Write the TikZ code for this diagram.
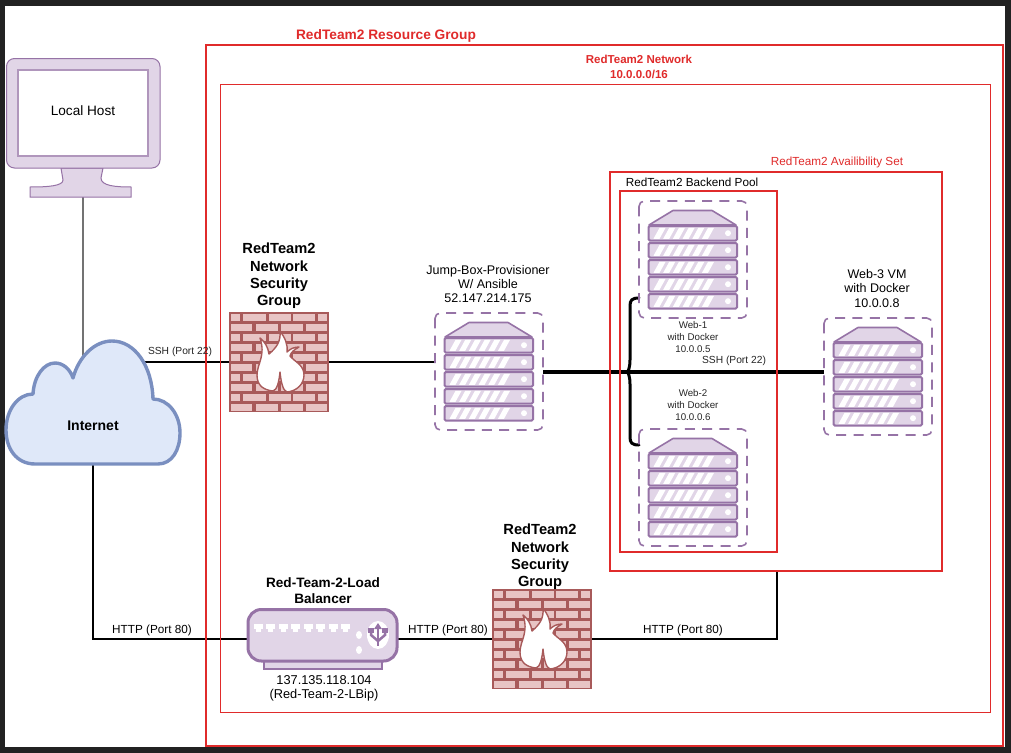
\documentclass[tikz,border=0pt]{standalone}
\usepackage{fontspec}
\setmainfont{Liberation Sans}
\definecolor{framebg}{HTML}{222222}
\definecolor{redline}{HTML}{E02B2B}
\definecolor{purp}{HTML}{9673A6}
\definecolor{purpfill}{HTML}{E1D5E7}
\definecolor{cloudline}{HTML}{7A8FC0}
\definecolor{cloudfill}{HTML}{DFE8F9}
\definecolor{brickdark}{HTML}{A85A5A}
\definecolor{brickfill}{HTML}{E8C4C4}
\tikzset{
  iconbox/.style n args={2}{rectangle,inner sep=0pt,outer sep=0pt,minimum width=#1*0.75pt,minimum height=#2*0.75pt},
  px/.style={line width=#1*0.75pt},
  group/.style={draw=redline,px=#1},
  wire/.style={draw=black,px=#1},
  labeltxt/.style={inner sep=0pt,align=center,text=black,font=\fontsize{8.8}{10.5}\selectfont},
  largetxt/.style={inner sep=0pt,align=center,text=black,font=\fontsize{9.4}{10.8}\selectfont},
  smalltxt/.style={inner sep=0pt,align=center,text=black!85,font=\fontsize{7.3}{9}\selectfont},
  headtxt/.style={inner sep=0pt,align=center,text=black,font=\fontsize{11}{13.1}\selectfont\bfseries},
  redtxt/.style={inner sep=0pt,align=center,text=redline},
}
\newcommand{\serverpic}[1]{%
  \begin{scope}[shift={(#1.north west)}]
    \draw[purp,px=1.6,dash pattern=on 7.5pt off 5.5pt,rounded corners=4pt] (0,0) rectangle (108,117);
    \filldraw[fill=purpfill,draw=purp,px=1.6,line join=round] (10,24) -- (34,9.5) -- (73,9.5) -- (97,24) -- cycle;
    \foreach \yy in {25,42,59,76,93}{
      \filldraw[fill=purpfill,draw=purp,px=2,rounded corners=1pt] (9.5,\yy) rectangle (98,\yy+14.5);
      \fill[white] (89,\yy+7.2) circle[radius=3];
      \foreach \sx in {0,...,5}{
        \fill[white] ({14.5+\sx*9.7},\yy+12.8) -- ({20.5+\sx*9.7},\yy+12.8) -- ({26.5+\sx*9.7},\yy+1.9) -- ({20.5+\sx*9.7},\yy+1.9) -- cycle;
      }
    }
  \end{scope}}
\newcommand{\firewallpic}[1]{%
  \begin{scope}[shift={(#1.north west)}]
    \fill[brickdark] (0,0) rectangle (100,100);
    \foreach \ry in {0,20,40,60,80}{
      \foreach \a/\b in {2.3/10.7,14/37,39.5/61.5,64/86,88.5/98}{
        \fill[brickfill] (\a,\ry+1.5) rectangle (\b,\ry+8.7);
      }
      \foreach \a/\b in {1.5/23,27/49,52/74,76.5/98}{
        \fill[brickfill] (\a,\ry+11.5) rectangle (\b,\ry+18.7);
      }
    }
    \filldraw[fill=white,draw=brickdark,px=1.4,line join=round]
      (44,79) .. controls (35,78) and (28,74) .. (28,63)
      .. controls (28,52) and (37,44) .. (31,26)
      .. controls (36,30) and (39,35) .. (40,42)
      .. controls (47,36) and (52,30) .. (51,19)
      .. controls (56,26) and (59,32) .. (58,40)
      .. controls (61,37) and (65,35) .. (70,35)
      .. controls (65,38) and (62,40) .. (61,44)
      .. controls (66,50) and (75,53) .. (75,63)
      .. controls (75,72) and (68,79) .. (58,80)
      .. controls (54,79) and (52,70) .. (51,60)
      .. controls (50,70) and (48,78) .. (44,79) -- cycle;
  \end{scope}}
\begin{document}
\begin{tikzpicture}[x=0.75pt,y=-0.75pt]
\useasboundingbox (0,0) rectangle (1011,753);
\fill[framebg] (0,0) rectangle (1011,753);
\fill[white] (5,6) rectangle (1005,747);

% anchors of the icons
\node[iconbox={154}{139}] (monitor) at (83,127.5) {};
\node[iconbox={174}{124}] (internet) at (93,403) {};
\node[iconbox={100}{100}] (fwa) at (279,362) {};
\node[iconbox={100}{100}] (fwb) at (542,639) {};
\node[iconbox={108}{117}] (jump) at (489,371.5) {};
\node[iconbox={108}{117}] (weba) at (693,259.5) {};
\node[iconbox={108}{117}] (webb) at (693,487.5) {};
\node[iconbox={108}{117}] (webc) at (878,376.5) {};
\node[iconbox={149}{60}] (lb) at (322.5,639) {};
\node[iconbox={157}{361}] (pool) at (698.5,371.5) {};
\node[iconbox={332}{399}] (avset) at (776,371.5) {};
\coordinate (bracetip) at (627,372);

% connectors
\draw[draw=black!55,px=1.3] (monitor.south) -- (monitor.south |- internet.center);
\draw[wire=1.6] (fwa.west) -- (fwa.west -| internet.center);
\draw[wire=1.6] (fwa.east) -- (fwa.east -| jump.west);
\draw[wire=4] (jump.east) -- (jump.east -| webc.west);
\draw[wire=3,line cap=round] (weba.west |- 0,298) .. controls (632,298) and (630,300) .. (630,306) -- (630,360) .. controls (630,368) and (628,372) .. (bracetip) .. controls (628,372) and (630,376) .. (630,384) -- (630,437) .. controls (630,443) and (632,445) .. (webb.west |- 0,445);
\draw[wire=1.6] (internet.center) |- (lb.west);
\draw[wire=1.6] (lb.east) -- (fwb.west);
\draw[wire=1.6] (fwb.east) -| (avset.south -| pool.south east);

% group boxes
\draw[group=2] (206,45) rectangle (1003,746);
\draw[group=1] (220,84) rectangle (990,712);
\draw[group=2] (avset.north west) rectangle (avset.south east);
\draw[group=2] (pool.north west) rectangle (pool.south east);

% monitor
\filldraw[fill=purpfill,draw=purp,px=1] (30,197) -- (30,187) .. controls (48,187) and (63,186) .. (63,180) -- (61,168) -- (103,168) -- (101,178) .. controls (101,186) and (116,187) .. (131,187) -- (131,197) -- cycle;
\filldraw[fill=purpfill,draw=purp,px=1,rounded corners=6pt] (6.5,58.5) rectangle (160,168);
\filldraw[fill=white,draw=purp!75,px=1.3] (18,70) rectangle (148,156);

% cloud
\filldraw[fill=cloudfill,draw=cloudline,px=3.4,line join=round]
  (35,464) .. controls (16,464) and (6,448) .. (6,430)
  .. controls (6,410) and (18,394) .. (33,394)
  .. controls (34,376) and (44,363) .. (55,363)
  .. controls (63,363) and (70,369) .. (73,378)
  .. controls (79,356) and (95,341) .. (112,341)
  .. controls (135,341) and (152,366) .. (153,399)
  .. controls (168,399) and (180,414) .. (180,433)
  .. controls (180,450) and (172,464) .. (158,464) -- cycle;

% icons
\firewallpic{fwa}
\firewallpic{fwb}
\serverpic{jump}
\serverpic{weba}
\serverpic{webb}
\serverpic{webc}

% load balancer
\filldraw[fill=purpfill,draw=purp,px=1.6] (264,660) rectangle (382,669);
\filldraw[fill=purpfill,draw=purp,px=3,rounded corners=10pt] (lb.north west |- 0,609.5) rectangle (lb.east |- 0,661);
\foreach \i in {0,...,7}{
  \fill[white] ({253.5+\i*12.5},624) rectangle ({262.5+\i*12.5},629);
  \fill[white] ({255.5+\i*12.5},629) rectangle ({260.5+\i*12.5},632);
}
\fill[white] (359,635) ellipse[x radius=3,y radius=4];
\fill[white] (359,650) ellipse[x radius=3,y radius=4];
\fill[white] (378,635) ellipse[x radius=11,y radius=14];
\draw[purp,px=2.5] (378,627) -- (378,646);
\draw[purp,px=2.5] (378,641) -- (371,635) -- (371,631);
\draw[purp,px=2.5] (378,641) -- (385,635) -- (385,631);
\fill[purp] (378,623) -- (382,629) -- (374,629) -- cycle;
\fill[purp] (368,628) rectangle (374,633);
\fill[purp] (382,628) rectangle (388,633);

% labels
\node[redtxt,font=\fontsize{10.3}{12}\selectfont\bfseries] (lrg) at (386,36) {RedTeam2 Resource Group};
\node[redtxt,font=\fontsize{8.65}{10.8}\selectfont\bfseries] (lnet) at (639,67) {RedTeam2 Network\\10.0.0.0/16};
\node[redtxt,font=\fontsize{8.8}{10.8}\selectfont] (lav) at (837,162) {RedTeam2 Availibility Set};
\node[labeltxt] (lpool) at (692,182) {RedTeam2 Backend Pool};
\node[inner sep=0pt,text=black,font=\fontsize{10.2}{12}\selectfont] (lhost) at (83,111) {Local Host};
\node[inner sep=0pt,text=black,font=\fontsize{10.5}{12}\selectfont\bfseries] (lint) at (93,426) {Internet};
\node[smalltxt,font=\fontsize{7.7}{9}\selectfont] (lssha) at (180,352) {SSH (Port 22)};
\node[headtxt] (lfwa) at (279,276) {RedTeam2\\Network\\Security\\Group};
\node[headtxt] (lfwb) at (540,557) {RedTeam2\\Network\\Security\\Group};
\node[largetxt] (ljump) at (488,284) {Jump-Box-Provisioner\\W/ Ansible\\52.147.214.175};
\node[smalltxt] (lwa) at (693,337) {Web-1\\with Docker\\10.0.0.5};
\node[smalltxt] (lwb) at (693,405) {Web-2\\with Docker\\10.0.0.6};
\node[smalltxt,font=\fontsize{7.7}{9}\selectfont] (lsshb) at (734,361) {SSH (Port 22)};
\node[largetxt] (lwc) at (877,288.5) {Web-3 VM\\with Docker\\10.0.0.8};
\node[inner sep=0pt,align=center,text=black,font=\fontsize{10.2}{12}\selectfont\bfseries] (llb) at (323,591) {Red-Team-2-Load\\Balancer};
\node[inner sep=0pt,align=center,text=black,font=\fontsize{9.6}{10.6}\selectfont] (llbip) at (324,688) {137.135.118.104\\(Red-Team-2-LBip)};
\node[labeltxt] (lhttpa) at (152,630) {HTTP (Port 80)};
\node[labeltxt] (lhttpb) at (448,630) {HTTP (Port 80)};
\node[labeltxt] (lhttpc) at (683,630) {HTTP (Port 80)};
\end{tikzpicture}
\end{document}
